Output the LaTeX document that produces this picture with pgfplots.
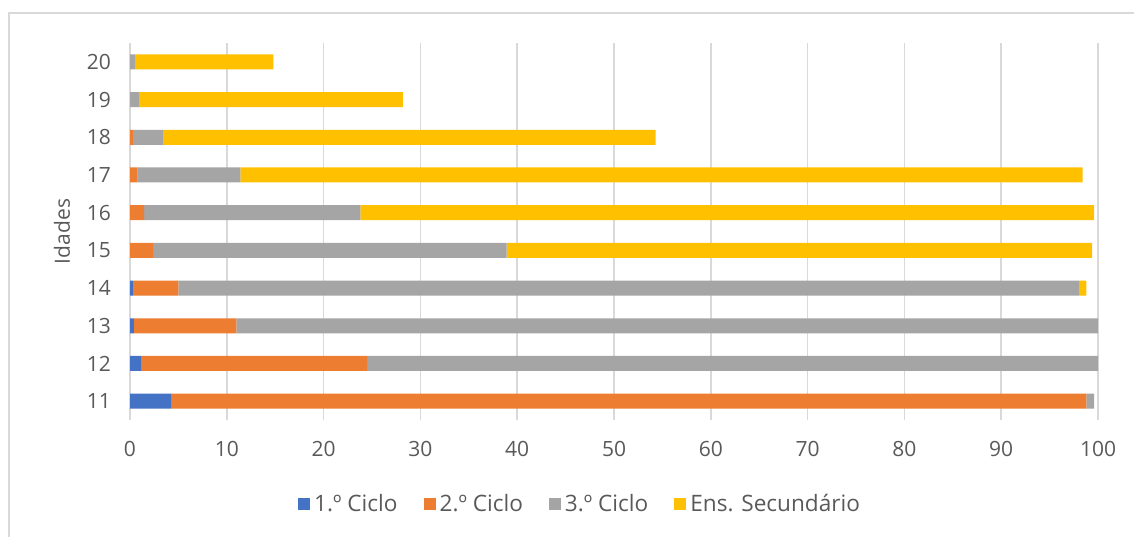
\documentclass[border=0pt]{standalone}
\usepackage{fontspec}
\setmainfont{Open Sans}
\usepackage{pgfplots}
\pgfplotsset{compat=1.18}
\definecolor{c1}{HTML}{4472C4}
\definecolor{c2}{HTML}{ED7D31}
\definecolor{c3}{HTML}{A5A5A5}
\definecolor{c4}{HTML}{FFC000}
\definecolor{txt}{HTML}{595959}
\definecolor{gridc}{HTML}{D9D9D9}
\begin{document}
\begin{tikzpicture}
\useasboundingbox (0,0) rectangle (567pt,-268pt);
\draw[gridc, line width=1pt] (4.5pt,-270pt) -- (4.5pt,-6.5pt) -- (570pt,-6.5pt);
\begin{axis}[
  at={(65pt,-210pt)}, anchor=south west,
  scale only axis, width=484pt, height=188.5pt,
  xbar stacked, bar width=7.5pt,
  xmin=0, xmax=100, ymin=10.5, ymax=20.5,
  xtick={0,10,...,100}, ytick={11,...,20},
  xmajorgrids, major grid style={gridc, line width=0.8pt},
  axis line style={draw=none}, tick style={draw=none},
  font=\fontsize{10.5}{12}\selectfont,
  /pgf/number format/assume math mode=true,
  ticklabel style={txt},
  xticklabel style={yshift=-7pt},
  yticklabel style={xshift=-6pt},
  ylabel={Idades}, ylabel style={at={(axis description cs:-0.0703,0.5)}, anchor=center, txt},
  legend style={at={(0.466,-0.223)}, anchor=center, legend columns=4, draw=none, fill=none,
    font=\fontsize{11.3}{13}\selectfont, text=txt,
    /tikz/every even column/.append style={column sep=11pt}},
  legend image code/.code={\fill[#1] (0pt,-3pt) rectangle (6pt,3pt);},
]
\addplot[fill=c1, draw=none] coordinates {(4.3,11) (1.2,12) (0.4,13) (0.3,14) (0,15) (0,16) (0,17) (0,18) (0,19) (0,20)};
\addplot[fill=c2, draw=none] coordinates {(94.5,11) (23.3,12) (10.6,13) (4.7,14) (2.4,15) (1.45,16) (0.8,17) (0.3,18) (0,19) (0,20)};
\addplot[fill=c3, draw=none] coordinates {(0.8,11) (75.5,12) (89.0,13) (93.1,14) (36.5,15) (22.35,16) (10.6,17) (3.1,18) (1.0,19) (0.5,20)};
\addplot[fill=c4, draw=none] coordinates {(0,11) (0,12) (0,13) (0.7,14) (60.5,15) (75.8,16) (87.0,17) (50.9,18) (27.2,19) (14.3,20)};
\legend{1.º Ciclo, 2.º Ciclo, 3.º Ciclo, Ens. Secundário}
\end{axis}
\end{tikzpicture}
\end{document}
